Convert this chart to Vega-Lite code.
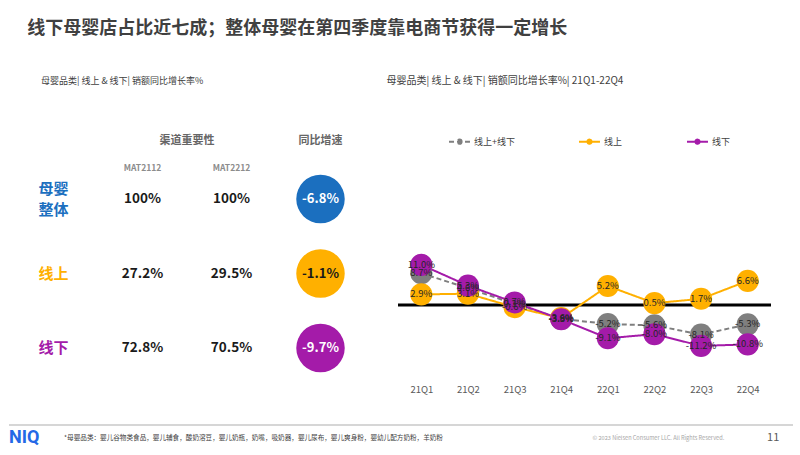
{
  "$schema": "https://vega.github.io/schema/vega-lite/v6.json",
  "background": "white",
  "padding": {"left": 8, "top": 20, "right": 8, "bottom": 2},
  "title": {"text": "线下母婴店占比近七成；整体母婴在第四季度靠电商节获得一定增长", "anchor": "start", "dx": 19, "fontSize": 18, "fontWeight": "bold", "color": "#404040", "offset": 38},
  "config": {
    "view": {"stroke": null},
    "font": "Noto Sans CJK SC",
    "locale": {"number": {"decimal": ".", "thousands": ",", "grouping": [3], "currency": ["$", ""], "minus": "-"}}
  },
  "resolve": {"scale": {"color": "independent", "strokeDash": "independent"}, "legend": {"color": "independent"}},
  "spacing": 30,
  "vconcat": [
    {
      "spacing": 21,
      "resolve": {"scale": {"color": "independent", "strokeDash": "independent"}, "legend": {"color": "independent", "strokeDash": "independent"}},
      "hconcat": [
        {
          "title": {"text": "母婴品类| 线上 & 线下| 销额同比增长率%", "anchor": "start", "dx": 32, "fontSize": 9, "fontWeight": "normal", "color": "#404040", "offset": 0},
          "bounds": "flush",
          "spacing": 31,
          "vconcat": [
            {
              "width": 356,
              "height": 82,
              "data": {"values": [
                {"col": "渠道重要性", "row": "h1", "text": "渠道重要性"},
                {"col": "同比增速", "row": "h1", "text": "同比增速"},
                {"col": "MAT2112", "row": "h2", "text": "MAT2112"},
                {"col": "MAT2212", "row": "h2", "text": "MAT2212"}
              ]},
              "encoding": {
                "x": {"field": "col", "type": "nominal", "scale": {"type": "point", "domain": ["label", "gap1", "MAT2112", "渠道重要性", "MAT2212", "gap2", "同比增速"], "padding": 1.49}, "axis": null},
                "y": {"field": "row", "type": "nominal", "scale": {"type": "point", "domain": ["h1", "h2"], "padding": 1.364, "align": 1}, "axis": null},
                "text": {"field": "text"}
              },
              "layer": [
                {"transform": [{"filter": "datum.row === 'h1'"}], "mark": {"type": "text", "fontSize": 11, "fontWeight": "bold", "color": "#666666"}},
                {"transform": [{"filter": "datum.row === 'h2'"}], "mark": {"type": "text", "fontSize": 8.5, "fontWeight": "bold", "color": "#8c8c8c"}}
              ]
            },
            {
              "width": 356,
              "height": 149,
              "resolve": {"scale": {"color": "shared"}},
              "layer": [
                {
                  "data": {"values": [
                    {"channel": "母婴整体", "label": "母婴\n整体"},
                    {"channel": "线上", "label": "线上"},
                    {"channel": "线下", "label": "线下"}
                  ]},
                  "encoding": {
                    "x": {"datum": "label", "type": "nominal", "scale": {"type": "point", "domain": ["label", "gap1", "MAT2112", "渠道重要性", "MAT2212", "gap2", "同比增速"], "padding": 1.49}, "axis": null},
                    "y": {"field": "channel", "type": "nominal", "scale": {"type": "point", "domain": ["母婴整体", "线上", "线下"], "padding": 0}, "axis": null},
                    "text": {"field": "label"},
                    "color": {"field": "channel", "type": "nominal", "scale": {"domain": ["母婴整体", "线上", "线下"], "range": ["#1b6fbf", "#ffb000", "#a41ba9"]}, "legend": null}
                  },
                  "layer": [
                    {"transform": [{"filter": "datum.channel === '母婴整体'"}], "mark": {"type": "text", "fontSize": 15, "fontWeight": "bold", "lineBreak": "\n", "lineHeight": 21, "dy": -10.5}},
                    {"transform": [{"filter": "datum.channel !== '母婴整体'"}], "mark": {"type": "text", "fontSize": 15, "fontWeight": "bold"}}
                  ]
                },
                {
                  "data": {"values": [
                    {"channel": "母婴整体", "col": "MAT2112", "share": 1.0},
                    {"channel": "母婴整体", "col": "MAT2212", "share": 1.0},
                    {"channel": "线上", "col": "MAT2112", "share": 0.272},
                    {"channel": "线上", "col": "MAT2212", "share": 0.295},
                    {"channel": "线下", "col": "MAT2112", "share": 0.728},
                    {"channel": "线下", "col": "MAT2212", "share": 0.705}
                  ]},
                  "mark": {"type": "text", "fontSize": 13.5, "fontWeight": "bold", "color": "#1a1a1a"},
                  "encoding": {
                    "x": {"field": "col", "type": "nominal", "axis": null},
                    "y": {"field": "channel", "type": "nominal", "axis": null},
                    "text": {"field": "share", "type": "quantitative", "format": ".1~%"}
                  }
                },
                {
                  "data": {"values": [
                    {"channel": "母婴整体", "yoy": -0.068},
                    {"channel": "线上", "yoy": -0.011},
                    {"channel": "线下", "yoy": -0.097}
                  ]},
                  "layer": [
                    {
                      "mark": {"type": "point", "filled": true, "opacity": 1, "size": 2350},
                      "encoding": {
                        "x": {"datum": "同比增速", "type": "nominal", "axis": null},
                        "y": {"field": "channel", "type": "nominal", "axis": null},
                        "color": {"field": "channel", "type": "nominal", "legend": null}
                      }
                    },
                    {
                      "mark": {"type": "text", "fontSize": 13, "fontWeight": "bold"},
                      "encoding": {
                        "x": {"datum": "同比增速", "type": "nominal", "axis": null},
                        "y": {"field": "channel", "type": "nominal", "axis": null},
                        "text": {"field": "yoy", "type": "quantitative", "format": ".1%"},
                        "color": {"condition": {"test": "datum.channel === '线上'", "value": "#1a1a1a"}, "value": "#ffffff"}
                      }
                    }
                  ]
                }
              ]
            }
          ]
        },
        {
          "title": {"text": "母婴品类| 线上 & 线下| 销额同比增长率%| 21Q1-22Q4", "anchor": "start", "dx": -10, "fontSize": 10, "fontWeight": "normal", "color": "#404040", "offset": 0},
          "width": 373,
          "height": 292,
          "data": {"values": [
            {"quarter": "21Q1", "series": "线上+线下", "value": 0.087},
            {"quarter": "21Q2", "series": "线上+线下", "value": 0.046},
            {"quarter": "21Q3", "series": "线上+线下", "value": 0.003},
            {"quarter": "21Q4", "series": "线上+线下", "value": -0.038},
            {"quarter": "22Q1", "series": "线上+线下", "value": -0.052},
            {"quarter": "22Q2", "series": "线上+线下", "value": -0.056},
            {"quarter": "22Q3", "series": "线上+线下", "value": -0.081},
            {"quarter": "22Q4", "series": "线上+线下", "value": -0.053},
            {"quarter": "21Q1", "series": "线上", "value": 0.029},
            {"quarter": "21Q2", "series": "线上", "value": 0.031},
            {"quarter": "21Q3", "series": "线上", "value": -0.006},
            {"quarter": "21Q4", "series": "线上", "value": -0.036},
            {"quarter": "22Q1", "series": "线上", "value": 0.052},
            {"quarter": "22Q2", "series": "线上", "value": 0.005},
            {"quarter": "22Q3", "series": "线上", "value": 0.017},
            {"quarter": "22Q4", "series": "线上", "value": 0.066},
            {"quarter": "21Q1", "series": "线下", "value": 0.110},
            {"quarter": "21Q2", "series": "线下", "value": 0.053},
            {"quarter": "21Q3", "series": "线下", "value": 0.007},
            {"quarter": "21Q4", "series": "线下", "value": -0.039},
            {"quarter": "22Q1", "series": "线下", "value": -0.091},
            {"quarter": "22Q2", "series": "线下", "value": -0.080},
            {"quarter": "22Q3", "series": "线下", "value": -0.112},
            {"quarter": "22Q4", "series": "线下", "value": -0.108}
          ]},
          "layer": [
            {
              "data": {"values": [{}]},
              "mark": {"type": "rule", "color": "#000000", "strokeWidth": 3},
              "encoding": {"y": {"datum": 0, "type": "quantitative", "scale": {"domain": [-0.2, 0.6]}, "axis": null}}
            },
            {
              "encoding": {
                "x": {"field": "quarter", "type": "ordinal", "scale": {"type": "point", "padding": 0.5}, "axis": {"title": null, "labelAngle": 0, "domain": false, "ticks": false, "grid": false, "labelFontSize": 9.5, "labelColor": "#595959", "labelPadding": 6}},
                "y": {"field": "value", "type": "quantitative", "scale": {"domain": [-0.2, 0.6]}, "axis": null},
                "color": {"field": "series", "type": "nominal", "scale": {"domain": ["线上+线下", "线上", "线下"], "range": ["#7f7f7f", "#ffb000", "#a41ba9"]},
                  "legend": {"orient": "top-left", "direction": "horizontal", "title": null, "labelFontSize": 9, "labelColor": "#404040", "symbolType": "M-1,0L1,0M0.2,0A0.2,0.2,0,1,1,-0.2,0A0.2,0.2,0,1,1,0.2,0Z", "symbolSize": 440, "symbolStrokeWidth": 2, "columnPadding": 57, "offset": 44, "symbolOffset": 6, "labelOffset": 3}}
              },
              "layer": [
                {
                  "mark": {"type": "line", "strokeWidth": 2},
                  "encoding": {"strokeDash": {"field": "series", "type": "nominal", "scale": {"domain": ["线上+线下", "线上", "线下"], "range": [[5, 3], [1, 0], [1, 0]]}, "legend": {"orient": "top-left", "direction": "horizontal", "title": null}}}
                },
                {"mark": {"type": "point", "filled": true, "opacity": 1, "size": 490}},
                {
                  "mark": {"type": "text", "fontSize": 9.5},
                  "encoding": {"text": {"field": "value", "type": "quantitative", "format": ".1%"}, "color": {"value": "#262626"}}
                }
              ]
            }
          ]
        }
      ]
    },
    {
      "width": 784,
      "height": 13,
      "data": {"values": [
        {"item": "NIQ", "text": "NIQ"},
        {"item": "note", "text": "*母婴品类：婴儿谷物类食品，婴儿辅食，酸奶溶豆，婴儿奶瓶，奶嘴，吸奶器，婴儿尿布，婴儿爽身粉，婴幼儿配方奶粉，羊奶粉"},
        {"item": "copyright", "text": "© 2023 Nielsen Consumer LLC. All Rights Reserved."},
        {"item": "page", "text": "11"}
      ]},
      "encoding": {
        "x": {"field": "item", "type": "nominal", "scale": {"type": "point", "domain": ["NIQ", "note", "f2", "f3", "f4", "f5", "f6", "f7", "f8", "f9", "f10", "f11", "f12", "copyright", "page"], "padding": 0.125, "align": 0}, "axis": null},
        "y": {"datum": "text", "type": "nominal", "scale": {"type": "point", "domain": ["line", "text"], "padding": 0}, "axis": null},
        "text": {"field": "text"}
      },
      "layer": [
        {
          "data": {"values": [{}]},
          "mark": {"type": "rule", "color": "#c8c8c8", "strokeWidth": 1.5},
          "encoding": {"x": null, "text": null, "y": {"datum": "line", "type": "nominal", "axis": null}}
        },
        {"transform": [{"filter": "datum.item === 'NIQ'"}], "mark": {"type": "text", "align": "left", "fontSize": 18, "fontWeight": "bold", "color": "#2468e6", "font": "Roboto"}},
        {"transform": [{"filter": "datum.item === 'note'"}], "mark": {"type": "text", "align": "left", "fontSize": 6.6, "color": "#404040"}},
        {"transform": [{"filter": "datum.item === 'copyright'"}], "mark": {"type": "text", "align": "right", "fontSize": 5.6, "color": "#a6a6a6"}},
        {"transform": [{"filter": "datum.item === 'page'"}], "mark": {"type": "text", "align": "right", "fontSize": 11, "color": "#595959"}}
      ]
    }
  ]
}
